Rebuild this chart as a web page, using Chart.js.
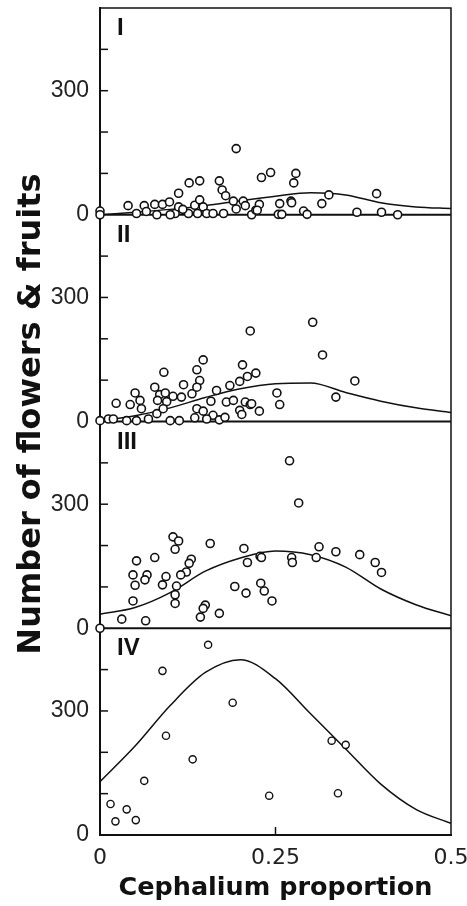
<!DOCTYPE html>
<html lang="en">
<head>
<meta charset="UTF-8">
<title>Flowers &amp; fruits vs cephalium proportion</title>
<style>
  html, body { margin: 0; padding: 0; background: #fff; }
  #wrap { position: relative; width: 467px; height: 906px; }
</style>
</head>
<body>
<div id="wrap"><canvas id="chart" width="467" height="906"></canvas></div>

<script src="https://cdn.jsdelivr.net/npm/chart.js"></script>
<script>
// panel names, top to bottom
const panels = ['I', 'II', 'III', 'IV'];

const curveX = [0, 0.05, 0.1, 0.15, 0.2, 0.25, 0.3, 0.35, 0.4, 0.45, 0.5];

// panel I
const xI = [0.194, 0.127, 0.142, 0.170, 0.174, 0.179, 0.112, 0.040, 0.052, 0.063, 0.078, 0.089, 0.099, 0.107,
  0.112, 0.126, 0.135, 0.142, 0.147, 0.139, 0.152, 0.161, 0.176, 0.190, 0.194, 0.204, 0.207, 0.216, 0.222,
  0, 0, 0.081, 0.100, 0.066, 0.118, 0.230, 0.243, 0.279, 0.276, 0.272, 0.273, 0.256, 0.227, 0.224, 0.254,
  0.259, 0.290, 0.295, 0.316, 0.326, 0.366, 0.394, 0.401, 0.424];
const yI = [160, 77, 82, 82, 60, 46, 52, 22, 3, 22, 25, 25, 31, 3,
  19, 3, 23, 36, 19, 3, 3, 3, 3, 33, 14, 33, 22, 0, 11,
  9, 0, 0, 0, 8, 13, 90, 102, 100, 77, 33, 29, 27, 25, 11, 1,
  1, 9, 1, 27, 48, 6, 51, 6, 0];
const curveI = [0, 6, 13, 22, 34, 45, 53, 48, 29, 19, 15];

// panel II
const xII = [0.214, 0.147, 0.203, 0.138, 0.091, 0.142, 0.222, 0.210, 0.199, 0.185, 0.119, 0.138, 0.078, 0.050,
  0.085, 0.093, 0.104, 0.116, 0.131, 0.166, 0.057, 0.023, 0.043, 0.082, 0.095, 0.059, 0.081, 0.158, 0.180,
  0.190, 0.207, 0.214, 0.199, 0.202, 0.227, 0.138, 0.147, 0.161, 0.090, 0, 0.012, 0.019, 0.038, 0.052,
  0.069, 0.100, 0.113, 0.135, 0.152, 0.170, 0.178, 0.303, 0.317, 0.363, 0.336, 0.252, 0.256, 0.216];
const yII = [219, 149, 137, 125, 119, 99, 117, 109, 97, 87, 89, 83, 83, 69,
  65, 69, 61, 59, 67, 75, 51, 44, 41, 51, 48, 31, 19, 49, 47,
  51, 47, 41, 27, 17, 25, 31, 25, 15, 31, 2, 6, 6, 2, 2,
  6, 2, 2, 9, 6, 4, 10, 240, 161, 98, 59, 69, 41, 43];
const curveII = [2, 14, 33, 58, 79, 91, 93, 70, 49, 33, 22];

// panel III
const xIII = [0.104, 0.112, 0.107, 0.157, 0.052, 0.078, 0.130, 0.127, 0.123, 0.115, 0.067, 0.047, 0.064, 0.050,
  0.094, 0.089, 0.109, 0.107, 0.107, 0.047, 0.150, 0.147, 0.170, 0.143, 0.031, 0.065, 0, 0.205, 0.210,
  0.192, 0.208, 0.270, 0.283, 0.312, 0.336, 0.370, 0.392, 0.401, 0.308, 0.273, 0.274, 0.228, 0.230,
  0.229, 0.234, 0.245];
const yIII = [221, 211, 191, 205, 163, 171, 167, 157, 136, 129, 129, 129, 117, 104,
  125, 105, 102, 81, 60, 66, 56, 48, 36, 27, 22, 18, 0, 193, 159,
  101, 85, 405, 303, 197, 185, 178, 159, 135, 171, 171, 159, 174, 171,
  109, 90, 66];
const curveIII = [34, 50, 86, 138, 170, 187, 178, 148, 95, 57, 30];

// panel IV
const xIV = [0.154, 0.089, 0.189, 0.094, 0.132, 0.063, 0.015, 0.038, 0.022, 0.051, 0.330, 0.350, 0.339, 0.241];
const yIV = [460, 397, 320, 240, 183, 131, 75, 62, 33, 36, 228, 218, 101, 95];
const curveIV = [129, 215, 313, 393, 424, 378, 293, 208, 123, 62, 28];

const yTicks = [0, 100, 200, 300, 400, 500];
const yLabelled = [0, 300];
const xTicks = [0, 0.25, 0.5];

const ink = '#111';
const pts = { I: [xI, yI], II: [xII, yII], III: [xIII, yIII], IV: [xIV, yIV] };
const curves = { I: curveI, II: curveII, III: curveIII, IV: curveIV };

const datasets = [];
panels.forEach(p => {
  const small = p === 'IV';
  datasets.push({
    type: 'scatter',
    yAxisID: 'y' + p,
    data: pts[p][0].map((x, i) => ({ x: x, y: pts[p][1][i] })),
    pointRadius: small ? 3.6 : 4,
    pointBorderWidth: small ? 1.4 : 1.6,
    pointBorderColor: ink,
    pointBackgroundColor: '#fff',
    clip: false,
    order: 1
  });
  datasets.push({
    type: 'line',
    yAxisID: 'y' + p,
    data: curveX.map((x, i) => ({ x: x, y: curves[p][i] })),
    borderColor: ink,
    borderWidth: 1.5,
    pointRadius: 0,
    fill: false,
    cubicInterpolationMode: 'monotone',
    order: 2
  });
});

function yScale(p) {
  return {
    type: 'linear',
    position: 'left',
    stack: 'panels',
    stackWeight: 1,
    min: 0,
    max: 500,
    afterBuildTicks: s => { s.ticks = yTicks.map(v => ({ value: v })); },
    grid: { display: false, drawTicks: false },
    border: { display: true, width: 2, color: ink },
    ticks: {
      autoSkip: false,
      padding: 11,
      color: '#222',
      font: { family: '"Liberation Sans", Arial, sans-serif', size: 23 },
      callback: v => yLabelled.includes(v) ? String(v) : ''
    },
    afterFit: s => { s.width = 100; s.paddingTop = 0; s.paddingBottom = 0; }
  };
}

// last defined left axis ends up on top of the stack
const scales = {
  x: {
    type: 'linear',
    position: 'bottom',
    min: 0,
    max: 0.5,
    afterBuildTicks: s => { s.ticks = xTicks.map(v => ({ value: v })); },
    grid: { display: false, drawTicks: false },
    border: { display: true, width: 2, color: ink },
    ticks: {
      autoSkip: false,
      padding: 10,
      color: '#222',
      maxRotation: 0,
      font: { family: '"DejaVu Sans", sans-serif', size: 22 },
      callback: v => String(v)
    },
    title: {
      display: true,
      text: 'Cephalium proportion',
      color: ink,
      font: { family: '"DejaVu Sans", sans-serif', size: 25.5, weight: 'bold' },
      padding: { top: 0, bottom: 2 }
    },
    afterFit: s => { s.height = 71; s.paddingLeft = 0; s.paddingRight = 0; }
  }
};
panels.slice().reverse().forEach(p => { scales['y' + p] = yScale(p); });

// panel frames, inward ticks, panel names and the shared y title
const framePlugin = {
  id: 'frames',
  beforeDatasetsDraw(chart) {
    const ctx = chart.ctx;
    const a = chart.chartArea;
    ctx.save();
    ctx.strokeStyle = ink;
    ctx.lineWidth = 1.5;
    ctx.beginPath();
    ctx.moveTo(a.left, a.top);
    ctx.lineTo(a.right, a.top);
    ctx.lineTo(a.right, a.bottom);
    ctx.stroke();
    panels.forEach((p, i) => {
      const s = chart.scales['y' + p];
      if (i < panels.length - 1) {
        ctx.lineWidth = 2.2;
        ctx.beginPath();
        const y0 = s.getPixelForValue(0);
        ctx.moveTo(a.left, y0);
        ctx.lineTo(a.right, y0);
        ctx.stroke();
      }
      ctx.lineWidth = 1.5;
      yTicks.slice(1, -1).forEach(v => {
        const y = s.getPixelForValue(v);
        ctx.beginPath();
        ctx.moveTo(a.left, y);
        ctx.lineTo(a.left + 8, y);
        ctx.stroke();
      });
    });
    const xs = chart.scales.x;
    xTicks.slice(1, -1).forEach(v => {
      const x = xs.getPixelForValue(v);
      ctx.beginPath();
      ctx.moveTo(x, a.bottom);
      ctx.lineTo(x, a.bottom - 8);
      ctx.stroke();
    });
    ctx.restore();
  },
  afterDraw(chart) {
    const ctx = chart.ctx;
    const a = chart.chartArea;
    ctx.save();
    ctx.fillStyle = ink;
    ctx.font = 'bold 24px "Liberation Sans", Arial, sans-serif';
    ctx.textAlign = 'left';
    ctx.textBaseline = 'alphabetic';
    panels.forEach(p => {
      const s = chart.scales['y' + p];
      ctx.fillText(p, a.left + 17, s.top + 27);
    });
    ctx.translate(40, 414);
    ctx.rotate(-Math.PI / 2);
    ctx.font = 'bold 32px "DejaVu Sans", sans-serif';
    ctx.textAlign = 'center';
    ctx.fillText('Number of flowers & fruits', 0, 0);
    ctx.restore();
  }
};

new Chart(document.getElementById('chart'), {
  type: 'scatter',
  data: { datasets: datasets },
  options: {
    responsive: false,
    animation: false,
    layout: { padding: { top: 8, right: 16, bottom: 0, left: 0 } },
    plugins: { legend: { display: false }, tooltip: { enabled: false } },
    scales: scales
  },
  plugins: [framePlugin]
});
</script>
</body>
</html>
